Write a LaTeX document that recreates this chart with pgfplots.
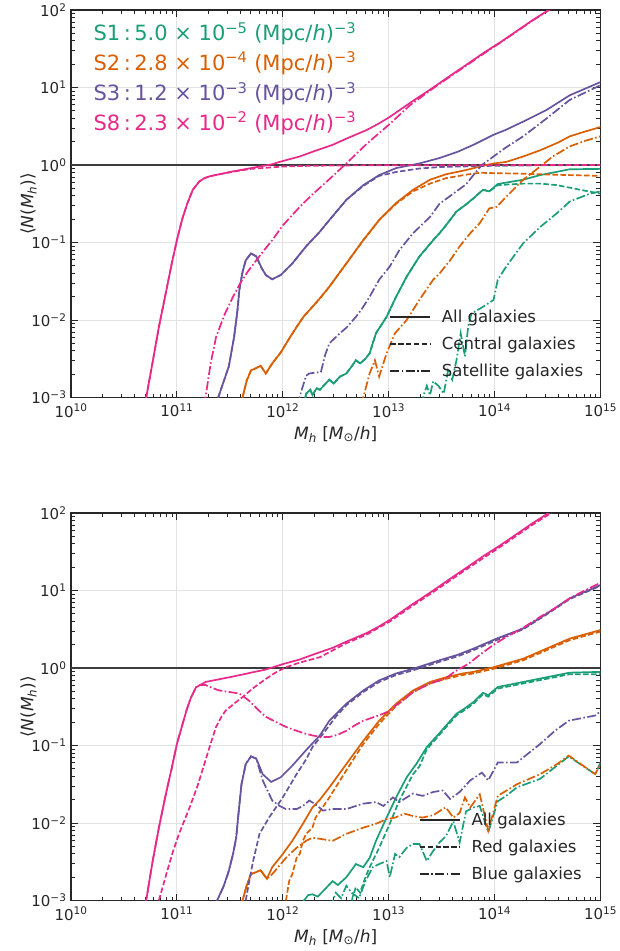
\documentclass[border=0pt]{standalone}
\usepackage{fontspec}
\setmainfont{DejaVu Sans}
\usepackage{pgfplots}
\pgfplotsset{compat=1.18}
\definecolor{cSa}{HTML}{1B9E77}
\definecolor{cSb}{HTML}{D95F02}
\definecolor{cSc}{HTML}{68549E}
\definecolor{cSd}{HTML}{E7298A}
\definecolor{axgray}{HTML}{262626}
\definecolor{gridgray}{HTML}{E2E2E2}
\tikzset{
  sol/.style={line width=1.7pt, solid},
  dsh/.style={line width=1.7pt, dash pattern=on 5.5pt off 2.4pt},
  dd/.style={line width=1.7pt, dash pattern=on 9pt off 2.4pt on 1.6pt off 2.4pt},
}
\pgfplotsset{
  hod/.style={
    scale only axis, width=529.5pt, height=387.5pt,
    xmin=10, xmax=15, ymin=-3, ymax=2,
    xtick={10,11,12,13,14,15}, ytick={-3,-2,-1,0,1,2},
    xticklabels={10\textsuperscript{10},10\textsuperscript{11},10\textsuperscript{12},10\textsuperscript{13},10\textsuperscript{14},10\textsuperscript{15}},
    yticklabels={10\textsuperscript{−3},10\textsuperscript{−2},10\textsuperscript{−1},10\textsuperscript{0},10\textsuperscript{1},10\textsuperscript{2}},
    minor xtick={10.301,10.477,10.602,10.699,10.778,10.845,10.903,10.954,11.301,11.477,11.602,11.699,11.778,11.845,11.903,11.954,12.301,12.477,12.602,12.699,12.778,12.845,12.903,12.954,13.301,13.477,13.602,13.699,13.778,13.845,13.903,13.954,14.301,14.477,14.602,14.699,14.778,14.845,14.903,14.954},
    minor ytick={-2.699,-2.523,-2.398,-2.301,-2.222,-2.155,-2.097,-2.046,-1.699,-1.523,-1.398,-1.301,-1.222,-1.155,-1.097,-1.046,-0.699,-0.523,-0.398,-0.301,-0.222,-0.155,-0.097,-0.046,0.301,0.477,0.602,0.699,0.778,0.845,0.903,0.954,1.301,1.477,1.602,1.699,1.778,1.845,1.903,1.954},
    tick align=inside, xtick pos=both, ytick pos=both,
    major tick length=7pt, minor tick length=4pt,
    every tick/.style={axgray, line width=1pt},
    axis line style={axgray, line width=1.5pt},
    xmajorgrids, ymajorgrids,
    major grid style={gridgray, line width=1pt},
    tick label style={font=\fontsize{15}{18}\selectfont, text=axgray},
    xticklabel style={yshift=-3pt},
    yticklabel style={xshift=-1pt},
    label style={font=\fontsize{17}{20}\selectfont, text=axgray},
    xlabel={\textit{M}\textsubscript{\textit{h}} [\textit{M}\textsubscript{⊙}/\textit{h}]},
    ylabel={⟨\textit{N}(\textit{M}\textsubscript{\textit{h}})⟩},
    xlabel shift=2pt, ylabel shift=-12pt,
    legend cell align=left,
    legend image code/.code={\draw[#1, line width=1.7pt] (0pt,0pt) -- (40pt,0pt);},
  },
}
\begin{document}
\begin{tikzpicture}
% ================= TOP PANEL =================
\begin{axis}[hod, at={(0,0)}, anchor=north west,
  legend style={at={(0.595,0.04)}, anchor=south west, draw=none, fill=none,
    font=\fontsize{16.5}{19}\selectfont, text=axgray, row sep=9pt, column sep=9pt}]
\addlegendimage{axgray, sol}\addlegendentry{All galaxies}
\addlegendimage{axgray, dsh}\addlegendentry{Central galaxies}
\addlegendimage{axgray, dd}\addlegendentry{Satellite galaxies}
\addplot[forget plot, color=axgray!90, line width=1.3pt] coordinates {(10,0) (15,0)};
% S1 green
\addplot[forget plot, cSa, sol] coordinates {(12.20,-3.1) (12.22,-2.95) (12.26,-2.9) (12.28,-2.97) (12.32,-2.88) (12.35,-2.90) (12.44,-2.77) (12.48,-2.82) (12.54,-2.73) (12.60,-2.69) (12.65,-2.60) (12.69,-2.52) (12.73,-2.56) (12.78,-2.50) (12.82,-2.43) (12.88,-2.17) (12.98,-1.96) (13.07,-1.70) (13.17,-1.44) (13.29,-1.18) (13.42,-0.97) (13.48,-0.88) (13.54,-0.78) (13.64,-0.60) (13.72,-0.52) (13.80,-0.43) (13.89,-0.32) (13.95,-0.34) (14.03,-0.245) (14.27,-0.19) (14.43,-0.13) (14.71,-0.055) (15.0,-0.05)};
\addplot[forget plot, cSa, dsh] coordinates {(12.20,-3.1) (12.22,-2.95) (12.26,-2.9) (12.28,-2.97) (12.32,-2.88) (12.35,-2.90) (12.44,-2.77) (12.48,-2.82) (12.54,-2.73) (12.60,-2.69) (12.65,-2.60) (12.69,-2.52) (12.73,-2.56) (12.78,-2.50) (12.82,-2.43) (12.88,-2.17) (12.98,-1.96) (13.07,-1.70) (13.17,-1.44) (13.29,-1.18) (13.42,-0.97) (13.48,-0.88) (13.54,-0.78) (13.64,-0.60) (13.72,-0.52) (13.80,-0.43) (13.89,-0.32) (13.95,-0.34) (14.03,-0.26) (14.27,-0.24) (14.43,-0.24) (14.59,-0.26) (14.81,-0.32) (15.0,-0.37)};
\addplot[forget plot, cSa, dd] coordinates {(13.32,-3.1) (13.33,-2.97) (13.36,-2.85) (13.39,-2.97) (13.42,-2.79) (13.47,-2.85) (13.52,-2.95) (13.56,-2.65) (13.60,-2.77) (13.64,-2.52) (13.68,-2.17) (13.72,-2.47) (13.75,-2.09) (13.78,-1.92) (13.89,-1.83) (13.99,-1.74) (14.03,-1.48) (14.11,-1.31) (14.27,-1.01) (14.43,-0.80) (14.59,-0.62) (14.71,-0.47) (14.90,-0.37) (15.0,-0.34)};
% S2 orange
\addplot[forget plot, cSb, sol] coordinates {(11.60,-3.1) (11.62,-3.0) (11.66,-2.78) (11.70,-2.65) (11.75,-2.62) (11.79,-2.59) (11.84,-2.69) (11.90,-2.56) (11.98,-2.42) (12.06,-2.24) (12.13,-2.09) (12.20,-1.95) (12.28,-1.83) (12.35,-1.72) (12.44,-1.57) (12.60,-1.27) (12.76,-0.97) (12.91,-0.71) (13.07,-0.49) (13.23,-0.32) (13.39,-0.19) (13.54,-0.12) (13.73,-0.065) (13.86,-0.02) (13.99,0.02) (14.11,0.04) (14.27,0.11) (14.43,0.19) (14.6,0.29) (14.71,0.37) (14.85,0.43) (15.0,0.49)};
\addplot[forget plot, cSb, dsh] coordinates {(11.60,-3.1) (11.62,-3.0) (11.66,-2.78) (11.70,-2.65) (11.75,-2.62) (11.79,-2.59) (11.84,-2.69) (11.90,-2.56) (11.98,-2.42) (12.06,-2.24) (12.13,-2.09) (12.20,-1.95) (12.28,-1.83) (12.35,-1.72) (12.44,-1.57) (12.60,-1.27) (12.76,-0.97) (12.91,-0.71) (13.07,-0.50) (13.23,-0.34) (13.39,-0.24) (13.54,-0.17) (13.73,-0.125) (13.86,-0.10) (13.99,-0.105) (14.2,-0.11) (14.43,-0.12) (14.7,-0.13) (15.0,-0.14)};
\addplot[forget plot, cSb, dd] coordinates {(12.75,-3.1) (12.76,-3.0) (12.82,-2.69) (12.87,-2.52) (12.91,-2.73) (12.98,-2.43) (13.06,-2.17) (13.17,-2.0) (13.29,-1.74) (13.42,-1.48) (13.48,-1.40) (13.58,-1.23) (13.67,-1.05) (13.77,-0.88) (13.86,-0.75) (13.95,-0.56) (14.02,-0.54) (14.11,-0.41) (14.27,-0.19) (14.43,-0.02) (14.55,0.11) (14.71,0.24) (14.85,0.31) (15.0,0.37)};
% S3 purple
\addplot[forget plot, cSc, sol] coordinates {(11.37,-3.1) (11.39,-3.0) (11.44,-2.8) (11.49,-2.60) (11.54,-2.22) (11.57,-1.9) (11.59,-1.61) (11.62,-1.38) (11.65,-1.23) (11.70,-1.14) (11.75,-1.18) (11.80,-1.33) (11.84,-1.42) (11.90,-1.475) (11.98,-1.42) (12.09,-1.27) (12.22,-1.05) (12.35,-0.86) (12.44,-0.71) (12.60,-0.45) (12.76,-0.26) (12.91,-0.13) (13.07,-0.04) (13.29,0.02) (13.48,0.09) (13.65,0.17) (13.80,0.26) (13.99,0.39) (14.1,0.45) (14.27,0.56) (14.49,0.71) (14.71,0.90) (15.0,1.07)};
\addplot[forget plot, cSc, dsh] coordinates {(11.37,-3.1) (11.39,-3.0) (11.44,-2.8) (11.49,-2.60) (11.54,-2.22) (11.57,-1.9) (11.59,-1.61) (11.62,-1.38) (11.65,-1.23) (11.70,-1.14) (11.75,-1.18) (11.80,-1.33) (11.84,-1.42) (11.90,-1.475) (11.98,-1.42) (12.09,-1.27) (12.22,-1.05) (12.35,-0.86) (12.44,-0.71) (12.60,-0.45) (12.76,-0.27) (12.91,-0.14) (13.07,-0.09) (13.29,-0.045) (13.5,-0.025) (14.0,-0.01) (14.5,-0.003) (15,0)};
\addplot[forget plot, cSc, dd] coordinates {(12.14,-3.1) (12.17,-2.94) (12.22,-2.72) (12.25,-2.69) (12.36,-2.67) (12.40,-2.45) (12.44,-2.30) (12.54,-2.17) (12.60,-2.10) (12.69,-1.96) (12.75,-1.85) (12.82,-1.70) (12.91,-1.48) (13.01,-1.31) (13.10,-1.10) (13.23,-0.88) (13.39,-0.67) (13.48,-0.50) (13.6,-0.38) (13.73,-0.25) (13.80,-0.13) (13.88,0.0) (13.99,0.11) (14.1,0.22) (14.27,0.37) (14.49,0.60) (14.71,0.84) (15.0,1.03)};
% S8 pink
\addplot[forget plot, cSd, sol] coordinates {(10.69,-3.1) (10.71,-3.0) (10.77,-2.55) (10.83,-2.09) (10.90,-1.62) (10.95,-1.28) (11.0,-0.97) (11.05,-0.70) (11.10,-0.49) (11.15,-0.32) (11.21,-0.215) (11.26,-0.17) (11.31,-0.145) (11.4,-0.12) (11.5,-0.09) (11.6,-0.065) (11.7,-0.04) (11.8,-0.015) (11.9,0.01) (11.97,0.04) (12.05,0.07) (12.16,0.11) (12.3,0.18) (12.47,0.26) (12.6,0.34) (12.79,0.45) (12.9,0.53) (13.01,0.62) (13.2,0.80) (13.42,1.0) (13.6,1.17) (13.73,1.29) (13.9,1.45) (14.05,1.58) (14.2,1.72) (14.36,1.87) (14.51,2.0) (14.6,2.08)};
\addplot[forget plot, cSd, dsh] coordinates {(10.69,-3.1) (10.71,-3.0) (10.77,-2.55) (10.83,-2.09) (10.90,-1.62) (10.95,-1.28) (11.0,-0.97) (11.05,-0.70) (11.10,-0.49) (11.15,-0.32) (11.21,-0.215) (11.26,-0.17) (11.31,-0.145) (11.4,-0.12) (11.5,-0.095) (11.6,-0.07) (11.7,-0.05) (11.8,-0.04) (11.9,-0.03) (12.0,-0.02) (12.2,-0.012) (12.5,-0.006) (13,-0.003) (15,0)};
\addplot[forget plot, cSd, dd] coordinates {(11.25,-3.1) (11.27,-3.0) (11.32,-2.55) (11.37,-2.22) (11.45,-1.93) (11.53,-1.70) (11.6,-1.52) (11.68,-1.355) (11.8,-1.14) (11.90,-0.97) (12.0,-0.78) (12.16,-0.54) (12.28,-0.38) (12.45,-0.17) (12.6,0.02) (12.79,0.27) (13.01,0.53) (13.2,0.77) (13.42,0.99) (13.6,1.16) (13.73,1.28) (13.9,1.44) (14.05,1.575) (14.2,1.715) (14.36,1.865) (14.51,1.995) (14.6,2.08)};
\node[anchor=base west, text=cSa, font=\fontsize{21}{25}\selectfont] at (rel axis cs:0.036,0.921) {S1\,:\,5.0 × 10\textsuperscript{−5} (Mpc/\textit{h})\textsuperscript{−3}};
\node[anchor=base west, text=cSb, font=\fontsize{21}{25}\selectfont] at (rel axis cs:0.036,0.845) {S2\,:\,2.8 × 10\textsuperscript{−4} (Mpc/\textit{h})\textsuperscript{−3}};
\node[anchor=base west, text=cSc, font=\fontsize{21}{25}\selectfont] at (rel axis cs:0.036,0.766) {S3\,:\,1.2 × 10\textsuperscript{−3} (Mpc/\textit{h})\textsuperscript{−3}};
\node[anchor=base west, text=cSd, font=\fontsize{21}{25}\selectfont] at (rel axis cs:0.036,0.690) {S8\,:\,2.3 × 10\textsuperscript{−2} (Mpc/\textit{h})\textsuperscript{−3}};
\end{axis}
% ================= BOTTOM PANEL =================
\begin{axis}[hod, at={(0,-503pt)}, anchor=north west,
  legend style={at={(0.651,0.04)}, anchor=south west, draw=none, fill=none,
    font=\fontsize{16.5}{19}\selectfont, text=axgray, row sep=9pt, column sep=9pt}]
\addlegendimage{axgray, sol}\addlegendentry{All galaxies}
\addlegendimage{axgray, dsh}\addlegendentry{Red galaxies}
\addlegendimage{axgray, dd}\addlegendentry{Blue galaxies}
\addplot[forget plot, color=axgray!90, line width=1.3pt] coordinates {(10,0) (15,0)};
% S1 green
\addplot[forget plot, cSa, sol] coordinates {(12.19,-3.1) (12.20,-3.0) (12.24,-2.93) (12.28,-2.92) (12.33,-2.95) (12.38,-2.88) (12.47,-2.75) (12.52,-2.80) (12.60,-2.70) (12.69,-2.53) (12.76,-2.57) (12.82,-2.45) (12.88,-2.23) (12.98,-1.93) (13.07,-1.67) (13.17,-1.41) (13.26,-1.24) (13.36,-1.02) (13.48,-0.84) (13.64,-0.59) (13.72,-0.52) (13.80,-0.44) (13.89,-0.32) (13.94,-0.35) (14.03,-0.245) (14.27,-0.18) (14.49,-0.12) (14.71,-0.06) (15.0,-0.05)};
\addplot[forget plot, cSa, dsh] coordinates {(12.64,-3.1) (12.66,-2.95) (12.69,-2.83) (12.73,-2.9) (12.78,-2.70) (12.82,-2.57) (12.91,-2.32) (13.01,-2.01) (13.10,-1.71) (13.23,-1.37) (13.29,-1.27) (13.36,-1.05) (13.48,-0.86) (13.64,-0.61) (13.72,-0.54) (13.80,-0.46) (13.89,-0.34) (13.94,-0.37) (14.03,-0.265) (14.27,-0.20) (14.49,-0.14) (14.71,-0.08) (15.0,-0.08)};
\addplot[forget plot, cSa, dd] coordinates {(12.45,-3.1) (12.50,-2.9) (12.55,-2.97) (12.60,-2.81) (12.65,-2.9) (12.72,-2.97) (12.78,-2.75) (12.85,-2.57) (12.91,-2.53) (12.98,-2.49) (13.01,-2.70) (13.06,-2.40) (13.10,-2.44) (13.17,-2.32) (13.23,-2.27) (13.29,-2.27) (13.36,-2.49) (13.42,-2.36) (13.48,-2.25) (13.54,-2.17) (13.61,-1.98) (13.67,-2.25) (13.73,-1.85) (13.80,-1.80) (13.86,-1.78) (13.94,-2.12) (14.03,-1.72) (14.11,-1.65) (14.21,-1.54) (14.43,-1.43) (14.57,-1.28) (14.70,-1.14) (14.95,-1.37) (15.0,-1.22)};
% S2 orange
\addplot[forget plot, cSb, sol] coordinates {(11.61,-3.1) (11.62,-3.0) (11.66,-2.8) (11.70,-2.66) (11.79,-2.61) (11.85,-2.72) (11.90,-2.57) (12.0,-2.40) (12.09,-2.23) (12.19,-2.01) (12.28,-1.80) (12.35,-1.70) (12.44,-1.54) (12.60,-1.24) (12.76,-0.94) (12.91,-0.68) (13.07,-0.46) (13.23,-0.29) (13.39,-0.18) (13.54,-0.12) (13.70,-0.07) (13.80,-0.05) (13.99,0.01) (14.27,0.12) (14.49,0.25) (14.71,0.38) (15.0,0.49)};
\addplot[forget plot, cSb, dsh] coordinates {(12.02,-3.1) (12.03,-3.0) (12.06,-2.75) (12.09,-2.66) (12.13,-2.45) (12.16,-2.40) (12.19,-2.23) (12.22,-2.14) (12.28,-2.06) (12.31,-1.93) (12.44,-1.67) (12.60,-1.32) (12.76,-0.98) (12.91,-0.72) (13.07,-0.49) (13.23,-0.31) (13.39,-0.20) (13.54,-0.14) (13.70,-0.09) (13.80,-0.07) (13.99,-0.01) (14.27,0.10) (14.49,0.23) (14.71,0.36) (15.0,0.47)};
\addplot[forget plot, cSb, dd] coordinates {(11.61,-3.1) (11.62,-3.0) (11.66,-2.8) (11.70,-2.66) (11.79,-2.61) (11.85,-2.72) (11.90,-2.66) (12.03,-2.45) (12.13,-2.32) (12.22,-2.23) (12.28,-2.19) (12.38,-2.21) (12.47,-2.23) (12.60,-2.14) (12.76,-2.06) (12.88,-2.01) (12.98,-1.95) (13.06,-1.93) (13.15,-1.88) (13.23,-1.91) (13.32,-1.93) (13.42,-1.90) (13.51,-1.82) (13.54,-1.80) (13.61,-1.93) (13.67,-1.87) (13.72,-1.67) (13.77,-1.80) (13.86,-1.63) (13.94,-2.10) (14.03,-1.65) (14.21,-1.50) (14.43,-1.37) (14.59,-1.24) (14.70,-1.13) (14.95,-1.37) (15.0,-1.24)};
% S3 purple
\addplot[forget plot, cSc, sol] coordinates {(11.37,-3.1) (11.38,-3.0) (11.44,-2.82) (11.49,-2.62) (11.53,-2.4) (11.56,-2.19) (11.58,-1.9) (11.61,-1.50) (11.65,-1.24) (11.70,-1.14) (11.75,-1.17) (11.81,-1.37) (11.89,-1.47) (11.98,-1.41) (12.09,-1.26) (12.22,-1.06) (12.35,-0.87) (12.44,-0.68) (12.60,-0.46) (12.76,-0.29) (12.91,-0.16) (13.07,-0.07) (13.23,-0.01) (13.39,0.06) (13.48,0.10) (13.65,0.17) (13.80,0.25) (14.02,0.38) (14.27,0.51) (14.49,0.70) (14.71,0.90) (15.0,1.07)};
\addplot[forget plot, cSc, dsh] coordinates {(11.64,-3.1) (11.65,-3.0) (11.69,-2.7) (11.72,-2.49) (11.78,-2.14) (11.87,-1.93) (11.97,-1.73) (12.0,-1.67) (12.13,-1.37) (12.22,-1.18) (12.28,-1.02) (12.38,-0.85) (12.50,-0.63) (12.60,-0.48) (12.76,-0.31) (12.91,-0.18) (13.07,-0.09) (13.23,-0.03) (13.39,0.04) (13.48,0.08) (13.65,0.15) (13.80,0.23) (14.02,0.36) (14.27,0.50) (14.49,0.69) (14.71,0.89) (15.0,1.06)};
\addplot[forget plot, cSc, dd] coordinates {(11.37,-3.1) (11.38,-3.0) (11.44,-2.82) (11.49,-2.62) (11.53,-2.4) (11.56,-2.19) (11.58,-1.9) (11.61,-1.50) (11.65,-1.24) (11.70,-1.14) (11.75,-1.17) (11.81,-1.45) (11.90,-1.71) (11.97,-1.78) (12.03,-1.82) (12.13,-1.82) (12.19,-1.78) (12.25,-1.71) (12.31,-1.76) (12.38,-1.84) (12.47,-1.82) (12.60,-1.82) (12.76,-1.75) (12.88,-1.73) (12.95,-1.78) (13.04,-1.67) (13.10,-1.73) (13.23,-1.62) (13.32,-1.65) (13.42,-1.60) (13.51,-1.58) (13.58,-1.69) (13.67,-1.60) (13.77,-1.45) (13.88,-1.35) (13.94,-1.45) (14.03,-1.22) (14.21,-1.22) (14.43,-0.98) (14.57,-0.81) (14.70,-0.68) (14.96,-0.61) (15.0,-0.55)};
% S8 pink
\addplot[forget plot, cSd, sol] coordinates {(10.69,-3.1) (10.71,-3.0) (10.77,-2.5) (10.83,-2.06) (10.9,-1.6) (10.95,-1.3) (11.0,-0.98) (11.05,-0.74) (11.09,-0.55) (11.13,-0.39) (11.18,-0.25) (11.27,-0.18) (11.4,-0.145) (11.53,-0.11) (11.7,-0.06) (11.84,-0.02) (12.0,0.05) (12.16,0.11) (12.3,0.18) (12.47,0.26) (12.6,0.34) (12.79,0.45) (12.9,0.53) (13.01,0.62) (13.2,0.80) (13.42,1.0) (13.6,1.17) (13.73,1.29) (13.9,1.45) (14.05,1.58) (14.2,1.72) (14.36,1.87) (14.51,2.0) (14.6,2.08)};
\addplot[forget plot, cSd, dsh] coordinates {(10.82,-3.1) (10.83,-3.0) (10.90,-2.66) (10.96,-2.38) (11.02,-2.14) (11.12,-1.80) (11.19,-1.54) (11.23,-1.37) (11.27,-1.19) (11.32,-0.97) (11.37,-0.76) (11.42,-0.63) (11.46,-0.55) (11.54,-0.46) (11.62,-0.375) (11.72,-0.26) (11.84,-0.14) (11.93,-0.06) (12.03,0.01) (12.16,0.07) (12.35,0.14) (12.6,0.32) (12.79,0.43) (13.01,0.60) (13.2,0.78) (13.42,0.98) (13.73,1.27) (14.05,1.56) (14.36,1.85) (14.51,1.98) (14.6,2.06)};
\addplot[forget plot, cSd, dd] coordinates {(10.69,-3.1) (10.71,-3.0) (10.77,-2.5) (10.83,-2.06) (10.9,-1.6) (10.95,-1.3) (11.0,-0.98) (11.05,-0.74) (11.09,-0.55) (11.13,-0.39) (11.18,-0.25) (11.22,-0.22) (11.27,-0.22) (11.34,-0.26) (11.40,-0.29) (11.5,-0.31) (11.59,-0.33) (11.68,-0.42) (11.76,-0.53) (11.84,-0.63) (11.97,-0.72) (12.03,-0.76) (12.13,-0.81) (12.22,-0.85) (12.28,-0.87) (12.36,-0.89) (12.44,-0.89) (12.52,-0.86) (12.60,-0.81) (12.68,-0.74) (12.76,-0.68) (12.91,-0.61) (13.0,-0.56) (13.07,-0.48) (13.15,-0.40) (13.23,-0.31) (13.39,-0.20) (13.48,-0.16) (13.54,-0.13) (13.61,-0.06) (13.67,-0.01) (13.76,0.06) (13.86,0.17) (13.99,0.30) (14.11,0.40) (14.27,0.52) (14.43,0.66) (14.57,0.77) (14.71,0.90) (14.85,1.0) (15.0,1.10)};
\end{axis}
\pgfresetboundingbox
\path (-71pt,10pt) rectangle (548pt,-941pt);
\end{tikzpicture}
\end{document}
